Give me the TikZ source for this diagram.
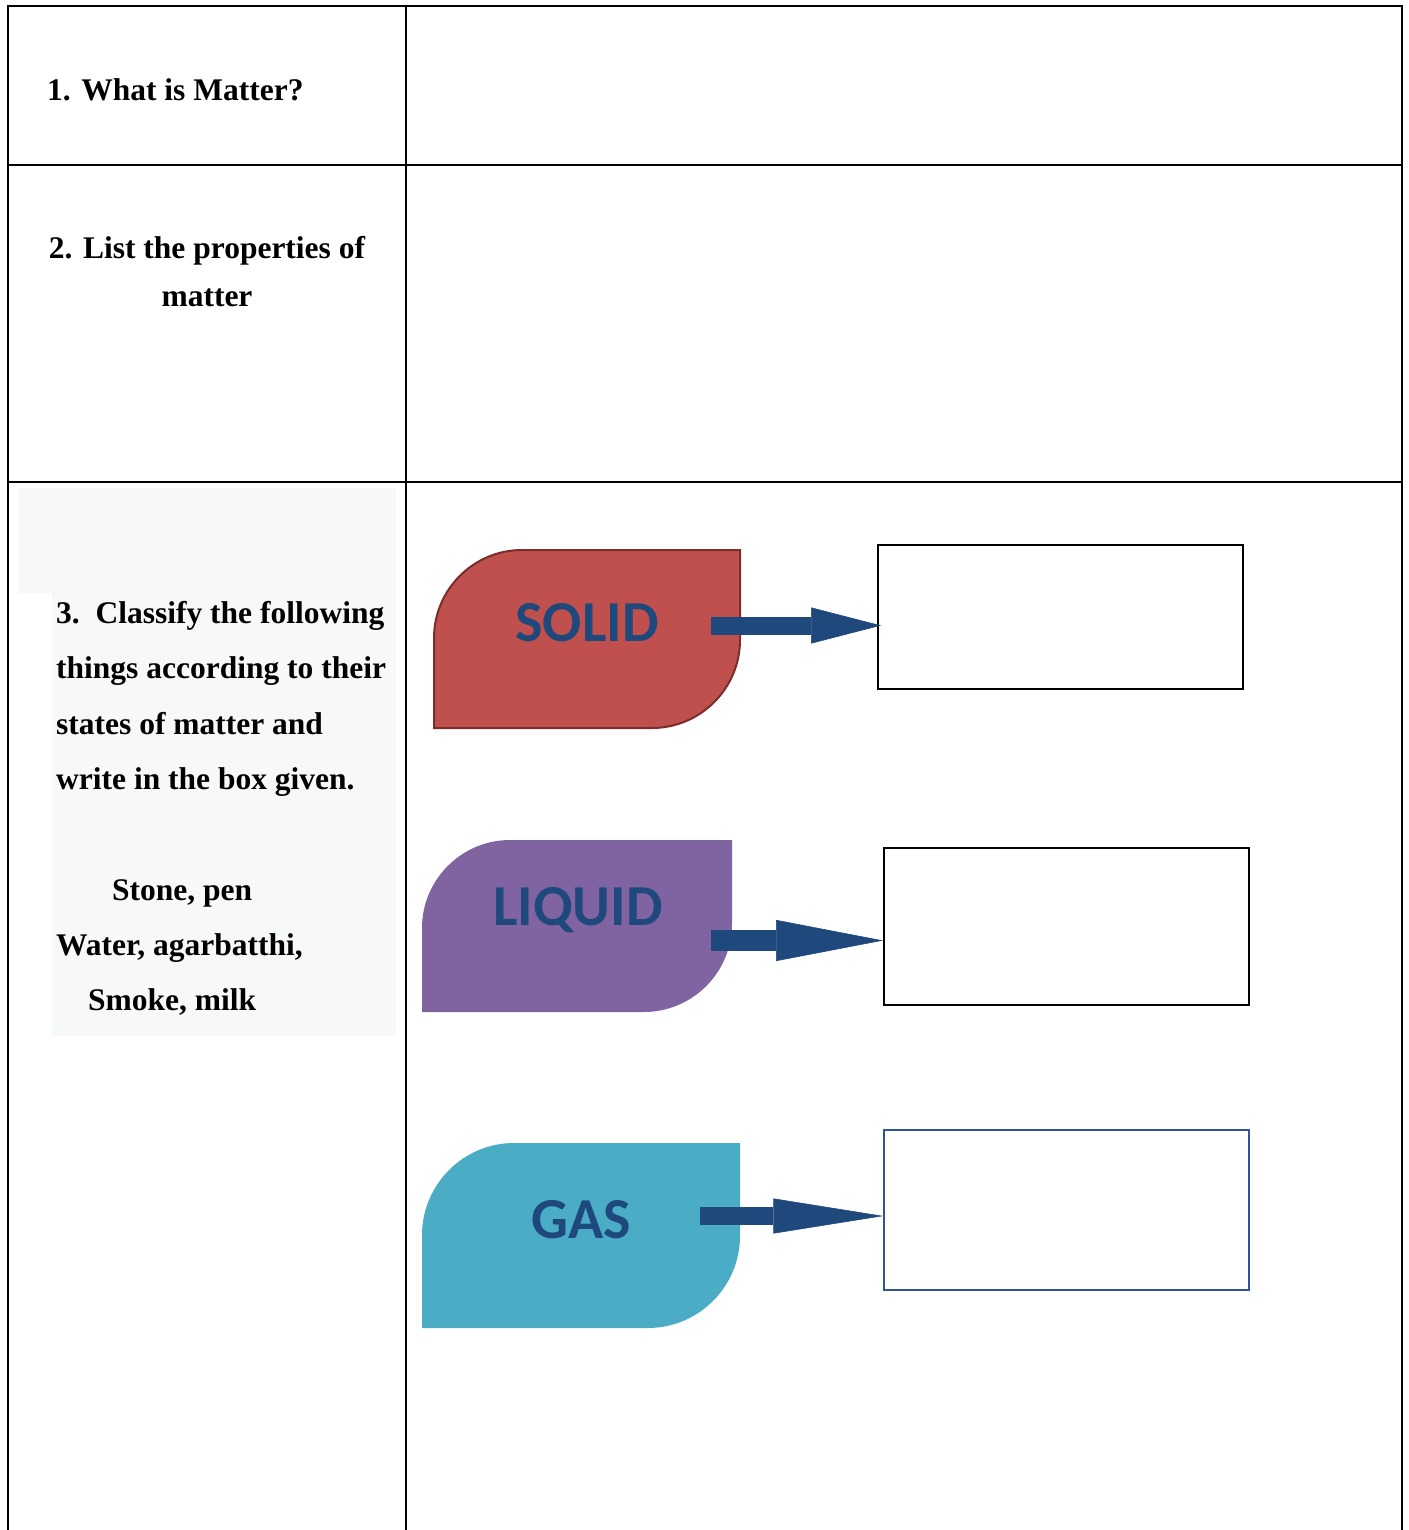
\documentclass[tikz,border=0pt]{standalone}
\usepackage{fontspec}
\setmainfont{Liberation Serif}
\newfontfamily\cardfont{Carlito}
\usetikzlibrary{arrows.meta, positioning, calc}
\definecolor{solidFill}{HTML}{C0504D}
\definecolor{solidEdge}{HTML}{7A2E2C}
\definecolor{liquidFill}{HTML}{8064A2}
\definecolor{gasFill}{HTML}{4BACC6}
\definecolor{labelBlue}{HTML}{1F497D}
\definecolor{arrowBlue}{HTML}{1F497D}
\definecolor{boxBlue}{HTML}{2E5597}
\definecolor{cellGray}{HTML}{F7F8FA}
\tikzset{
  gridline/.style={line width=2pt, black},
  question/.style={font=\fontsize{31.5}{48}\selectfont\bfseries, inner sep=0pt},
  cardlabel/.style={font=\cardfont\fontsize{58}{62}\selectfont\bfseries, text=labelBlue, inner sep=0pt},
  answerbox/.style={draw=#1, line width=1.8pt, fill=white, inner sep=0pt},
  blockarrow/.style n args={3}{draw=arrowBlue, line width=#1,
    -{Triangle[length=#2, width=#3, line width=0.6pt]}},
}
% card with rounded top-left and bottom-right corners: style, left, top, right, bottom, radius
\newcommand\statecard[6]{%
  \path[#1] (#2,#5) -- (#2,#3+#6)
    .. controls (#2,#3+0.45*#6) and (#2+0.45*#6,#3) .. (#2+#6,#3)
    -- (#4,#3) -- (#4,#5-#6)
    .. controls (#4,#5-0.45*#6) and (#4-0.45*#6,#5) .. (#4-#6,#5) -- cycle;}

\begin{document}
\begin{tikzpicture}[x=1pt, y=-1pt]
\useasboundingbox (0,0) rectangle (1408,1530);
\fill[white] (0,0) rectangle (1408,1530);

% shaded text area of cell 3
\fill[cellGray] (18,488) -- (396,488) -- (396,1036) -- (52,1036) -- (52,593) -- (18,593) -- cycle;

% table rules
\draw[gridline] (8,1530) -- (8,6) -- (1402,6) -- (1402,1530);
\draw[gridline] (406,6) -- (406,1530);
\draw[gridline] (8,165) -- (1402,165);
\draw[gridline] (8,482) -- (1402,482);

% questions
\node[question, anchor=west] (q1) at (47,90) {1. What is Matter?};
\node[question, align=center] (q2) at (207,272) {2. List the properties of\\matter};
\node[question, anchor=north west, align=left, font=\fontsize{31.5}{55.5}\selectfont\bfseries]
  (q3) at (56,601) {3.\ \ Classify the following\\things according to their\\states of matter and\\write in the box given.};
\node[question, anchor=north west, align=left, font=\fontsize{31.5}{55}\selectfont\bfseries]
  (items) at (56,879) {\hspace*{56pt}Stone, pen\\Water, agarbatthi,\\\hspace*{32pt}Smoke, milk};

% state cards
\statecard{fill=solidFill, draw=solidEdge, line width=2pt}{434}{550}{740}{728}{88}
\statecard{fill=liquidFill}{422}{840}{732}{1012}{88}
\statecard{fill=gasFill}{422}{1143}{740}{1328}{92}
\node[cardlabel] (solid) at (587,623) {SOLID};
\node[cardlabel] (liquid) at (578,910) {LIQUID};
\node[cardlabel] (gas) at (581,1220) {GAS};

% answer boxes
\node[answerbox=black, minimum width=365pt, minimum height=144pt] (solidbox) at (1060.5,617) {};
\node[answerbox=black, minimum width=365pt, minimum height=157pt] (liquidbox) at (1066.5,926.5) {};
\node[answerbox=boxBlue, line width=1.4pt, minimum width=365pt, minimum height=160pt] (gasbox) at (1066.5,1210) {};

% arrows
\coordinate (soltail) at (711,625.5);
\coordinate (liqtail) at (711,940.5);
\coordinate (gastail) at (700,1216);
\draw[blockarrow={18pt}{70pt}{36pt}] (soltail) -- ([xshift=4pt]soltail -| solidbox.west);
\draw[blockarrow={21pt}{107pt}{41pt}] (liqtail) -- (liqtail -| liquidbox.west);
\draw[blockarrow={18pt}{110pt}{35pt}] (gastail) -- (gastail -| gasbox.west);
\end{tikzpicture}
\end{document}
